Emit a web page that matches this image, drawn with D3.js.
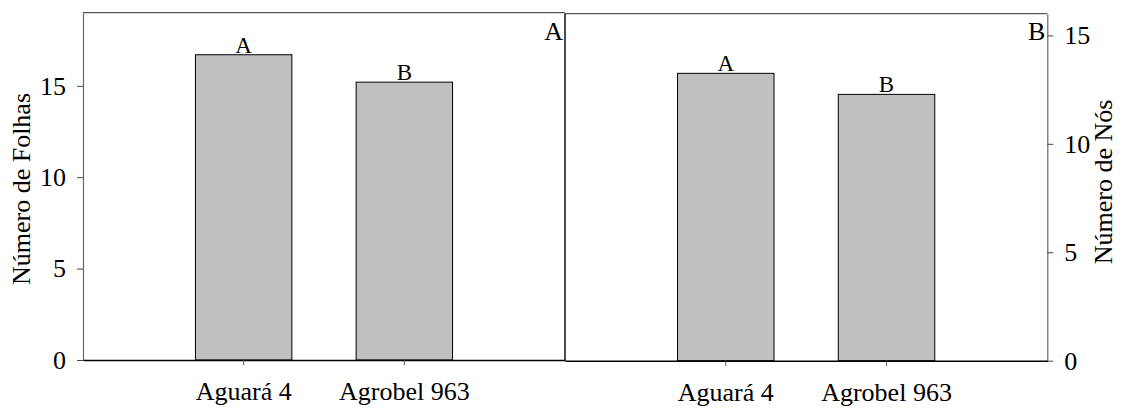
<!DOCTYPE html>
<html>
<head>
<meta charset="utf-8">
<script src="https://cdn.jsdelivr.net/npm/d3@7"></script>
<style>
  body { margin: 0; background: #fff; }
  svg { display: block; }
  svg text { font-family: "Liberation Serif", "Times New Roman", Times, serif; }
</style>
</head>
<body>
<div id="chart"></div>
<script>
// cultivares e médias
const cultivares = ['Aguará 4', 'Agrobel 963'];
const numeroFolhas = [16.7, 15.2];
const numeroNos = [13.25, 12.28];
const letrasFolhas = ['A', 'B'];
const letrasNos = ['A', 'B'];
const ticksFolhas = [0, 5, 10, 15];
const ticksNos = [0, 5, 10, 15];

const width = 1121;
const height = 408;

const svg = d3.select('#chart')
    .append('svg')
    .attr('width', width)
    .attr('height', height);

/**
 * desenha um painel de barras
 */
function drawPanel(opts) {
    const g = svg.append('g');

    const x = d3.scaleBand()
        .domain(cultivares)
        .range([opts.x0, opts.x1])
        .paddingInner(0.4)
        .paddingOuter(0.7);

    const y = d3.scaleLinear()
        .domain([0, opts.yMax])
        .range([opts.y0, opts.y1]);

    // moldura superior
    g.append('line')
        .attr('x1', opts.x0).attr('x2', opts.x1)
        .attr('y1', opts.y1).attr('y2', opts.y1)
        .attr('stroke', '#555')
        .attr('stroke-width', 1.2);

    // barras
    g.selectAll('.bar')
        .data(opts.valores)
        .enter()
        .append('rect')
        .attr('class', 'bar')
        .attr('x', (d, i) => x(cultivares[i]))
        .attr('y', d => y(d))
        .attr('width', x.bandwidth())
        .attr('height', d => y(0) - y(d))
        .attr('fill', '#c0c0c0')
        .attr('stroke', '#000')
        .attr('stroke-width', 1);

    // letras das médias
    g.selectAll('.letra')
        .data(opts.letras)
        .enter()
        .append('text')
        .attr('class', 'letra')
        .attr('x', (d, i) => x(cultivares[i]) + x.bandwidth() / 2)
        .attr('y', (d, i) => y(opts.valores[i]) - 2)
        .attr('text-anchor', 'middle')
        .attr('font-size', '23px')
        .text(d => d);

    // eixo y
    const yAxis = (opts.lado === 'left' ? d3.axisLeft(y) : d3.axisRight(y))
        .tickValues(opts.ticks)
        .tickSize(6)
        .tickSizeOuter(0)
        .tickPadding(11);

    const gy = g.append('g')
        .attr('transform', `translate(${opts.lado === 'left' ? opts.x0 : opts.x1},0)`)
        .call(yAxis);
    gy.select('.domain').attr('stroke', '#666').attr('stroke-width', 1.2);
    gy.selectAll('.tick line').attr('stroke', '#444');
    gy.selectAll('text')
        .attr('font-size', '26px')
        .attr('fill', '#000');

    // eixo x
    const xAxis = d3.axisBottom(x)
        .tickSize(5)
        .tickSizeOuter(0)
        .tickPadding(17);
    const gx = g.append('g')
        .attr('transform', `translate(0,${opts.y0})`)
        .call(xAxis);
    gx.select('.domain').attr('stroke', '#000').attr('stroke-width', 1.4);
    gx.selectAll('.tick line').attr('stroke', '#555');
    gx.selectAll('text')
        .attr('font-size', '26px')
        .attr('fill', '#000');

    // título do eixo y
    g.append('text')
        .attr('transform', `translate(${opts.tituloX},${opts.tituloY}) rotate(-90)`)
        .attr('text-anchor', 'middle')
        .attr('dominant-baseline', 'middle')
        .attr('font-size', '26px')
        .text(opts.titulo);

    // letra do painel
    g.append('text')
        .attr('x', opts.x1 - 2)
        .attr('y', 40)
        .attr('text-anchor', 'end')
        .attr('font-size', '26px')
        .text(opts.painel);

    return g;
}

drawPanel({
    x0: 83, x1: 565, y0: 360, y1: 12.7, yMax: 19,
    valores: numeroFolhas, letras: letrasFolhas, ticks: ticksFolhas,
    lado: 'left', titulo: 'Número de Folhas', tituloX: 24, tituloY: 189,
    painel: 'A'
});

const direito = drawPanel({
    x0: 565, x1: 1047.3, y0: 360.7, y1: 13.7, yMax: 16,
    valores: numeroNos, letras: letrasNos, ticks: ticksNos,
    lado: 'right', titulo: 'Número de Nós', tituloX: 1106, tituloY: 182,
    painel: 'B'
});

// borda esquerda do painel B
direito.append('line')
    .attr('x1', 565).attr('x2', 565)
    .attr('y1', 13.7).attr('y2', 360.7)
    .attr('stroke', '#000')
    .attr('stroke-width', 1.4);
</script>
</body>
</html>
